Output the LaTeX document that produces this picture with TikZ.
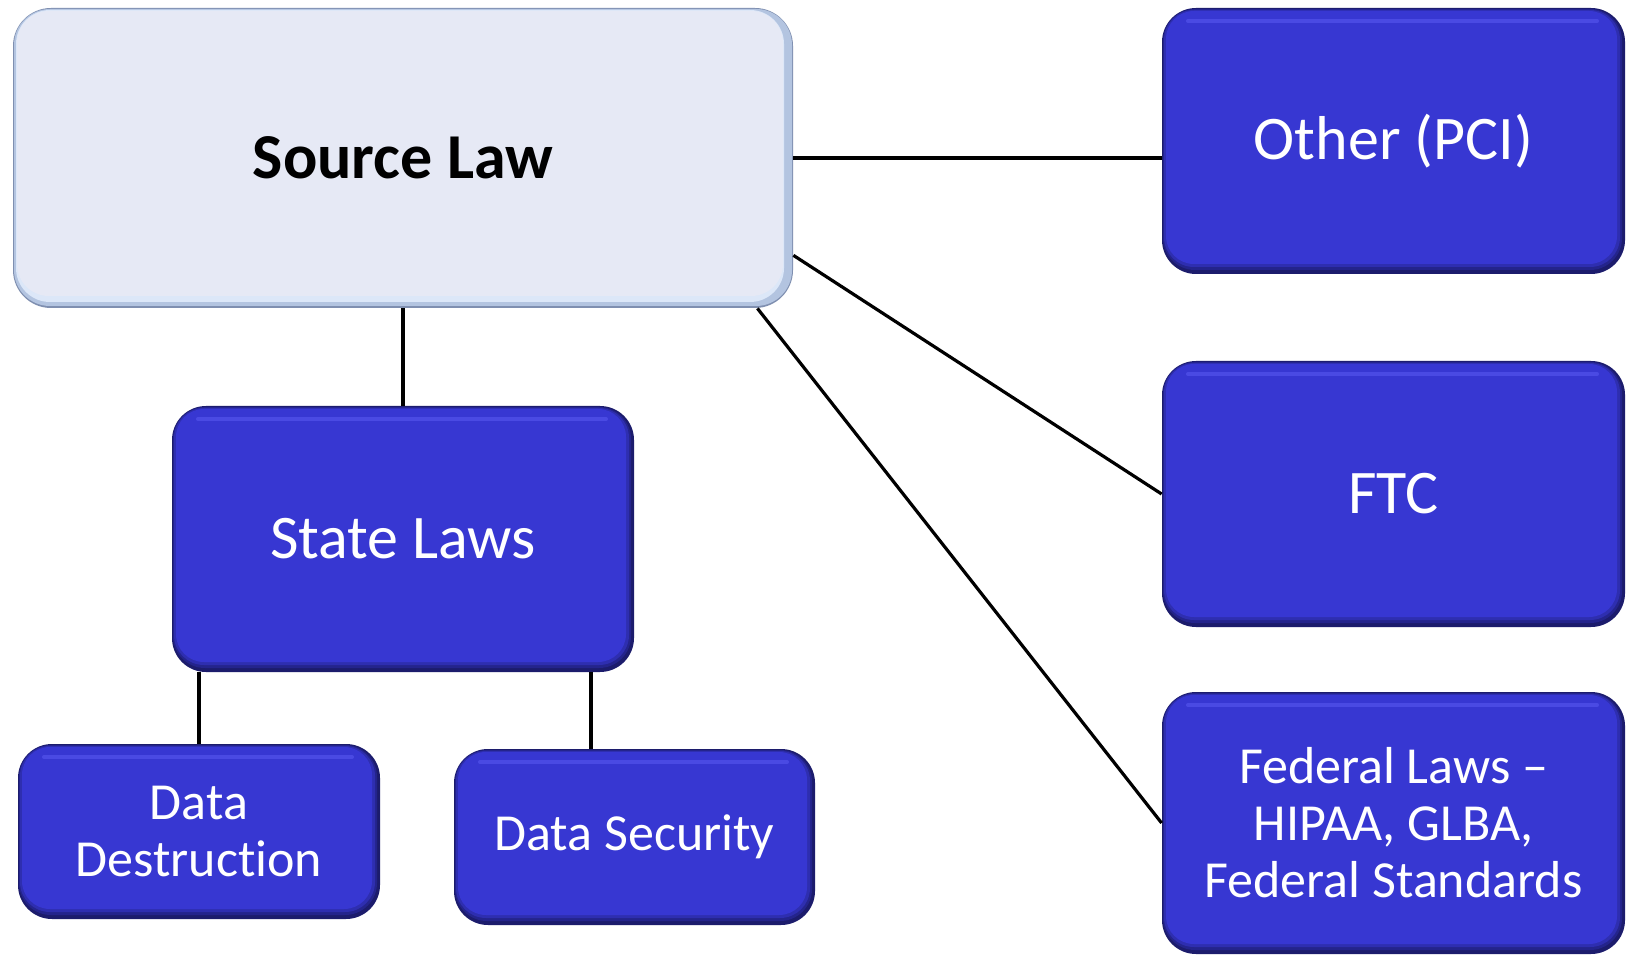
\documentclass[tikz,border=0pt]{standalone}
\usepackage{fontspec}
\setmainfont{Carlito}[Ligatures={NoCommon,NoRare,NoDiscretionary}]
\definecolor{bdk}{HTML}{1C1C6C}
\definecolor{bmdA}{HTML}{24248C}
\definecolor{bmdB}{HTML}{2E2EB0}
\definecolor{bmain}{HTML}{3737D2}
\definecolor{bhl}{HTML}{5A5AF2}
\definecolor{sdk}{HTML}{7F8FB0}
\definecolor{smdA}{HTML}{B3C4E0}
\definecolor{smdB}{HTML}{DCE7F8}
\definecolor{smain}{HTML}{E6E9F5}
\tikzset{
  bigtext/.style={font=\fontsize{31}{37}\selectfont, align=center},
  smalltext/.style={font=\fontsize{26}{28.5}\selectfont, align=center},
  conn/.style={draw=black, line width=1.6pt},
}
\newcommand\bluebox[7]{%
  \fill[bdk,rounded corners=17pt] (#2,#3) rectangle (#4,#5);
  \fill[bmdA,rounded corners=16pt] (#2+1,#3+1) rectangle (#4-3,#5-4);
  \fill[bmdB,rounded corners=15pt] (#2+2,#3+2) rectangle (#4-5,#5-7);
  \fill[bmain,rounded corners=14pt] (#2+4,#3+3) rectangle (#4-8,#5-10);
  \draw[bhl,line width=2pt,line cap=round,opacity=0.55] (#2+26,#3+13) -- (#4-28,#3+13);
  \node[#7,text=white,inner sep=0pt,minimum width={(#4-#2)*0.5pt},minimum height={(#5-#3)*0.5pt}] (#1) at ({(#2+#4)/2},{(#3+#5)/2}) {#6};
}
\begin{document}
\begin{tikzpicture}[x=0.5pt,y=-0.5pt]
\useasboundingbox (0,0) rectangle (1631,956);
\fill[white] (0,0) rectangle (1631,956);
% Source Law box
\fill[sdk,rounded corners=19pt] (13,8) rectangle (793,308);
\fill[smdA,rounded corners=18pt] (14,9) rectangle (792,306);
\fill[smdB,rounded corners=17pt] (16,10) rectangle (784,302);
\fill[smain,rounded corners=16pt] (17,11) rectangle (783,296);
\node[font=\fontsize{32}{38}\selectfont\bfseries,text=black,inner sep=0pt,minimum width=390pt,minimum height=150pt] (src) at (403,158) {Source Law};
% blue boxes
\bluebox{oth}{1162}{8}{1625}{274}{Other (PCI)}{bigtext}
\bluebox{ftc}{1162}{361}{1625}{627}{FTC}{bigtext}
\bluebox{fed}{1162}{692}{1625}{954}{Federal Laws –\\HIPAA, GLBA,\\Federal Standards}{smalltext}
\bluebox{state}{172}{406}{634}{672}{State Laws}{bigtext}
\bluebox{dd}{18}{744}{380}{919}{Data\\Destruction}{smalltext}
\bluebox{ds}{454}{749}{815}{925}{Data Security}{smalltext}
% connectors
\draw[conn] (src.east) -- (src.east -| oth.west);
\draw[conn] (src.-14.2) -- (ftc.west);
\draw[conn] (src.-23.26) -- (fed.west);
\draw[conn] (src.south) -- (state.north);
\draw[conn] (state.south -| dd.north) -- (dd.north);
\draw[conn] ([xshift=94pt]state.south) -- ([xshift=94pt]state.south |- ds.north);
\end{tikzpicture}
\end{document}
